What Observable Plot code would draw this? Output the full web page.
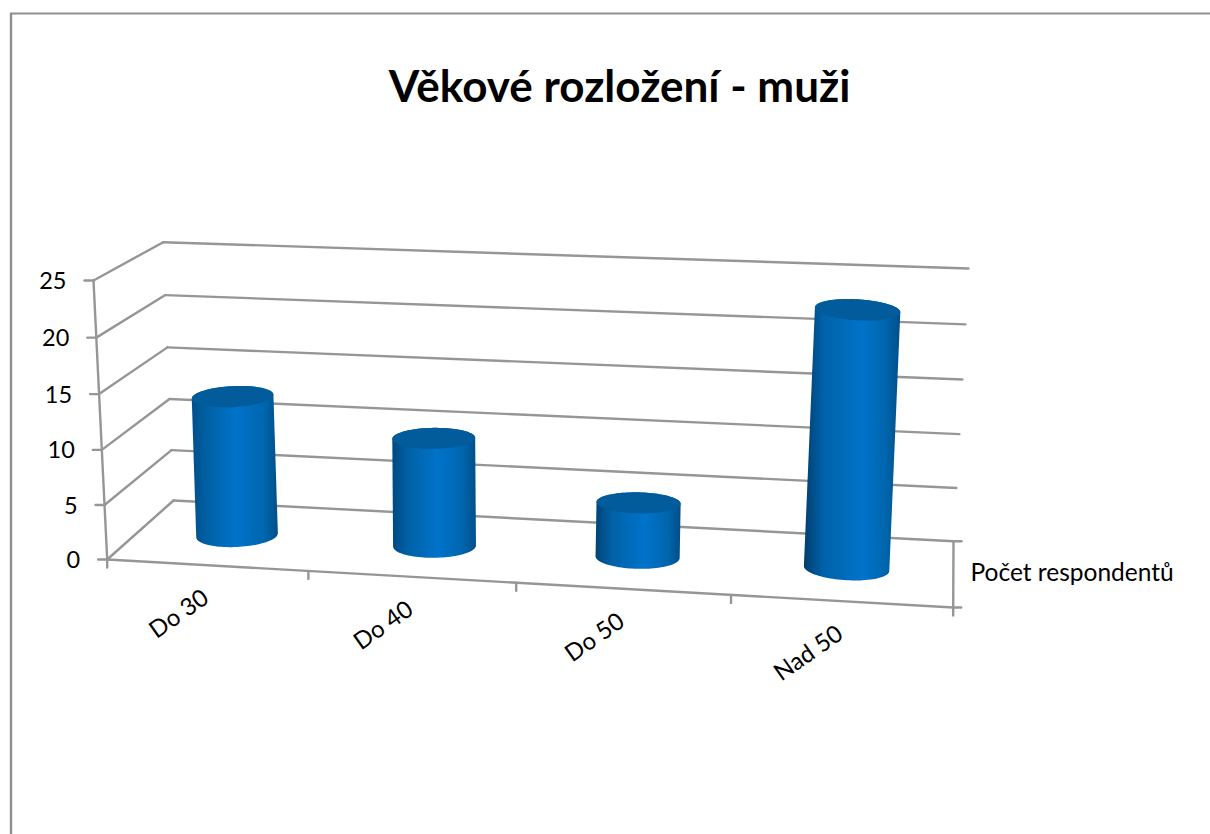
<!DOCTYPE html>
<html>
<head>
<meta charset="utf-8">
<script src="https://cdn.jsdelivr.net/npm/d3@7"></script>
<script src="https://cdn.jsdelivr.net/npm/@observablehq/plot@0.6"></script>
<style>
html,body{margin:0;padding:0;background:#fff}
svg{display:block}
</style>
</head>
<body>
<div id="chart"></div>
<script>
// ---- data ----
const categories = ["Do 30", "Do 40", "Do 50", "Nad 50"];
const respondents = [13, 10, 5, 23];
const valueTicks = [0, 5, 10, 15, 20, 25];
const seriesName = "Počet respondentů";
const chartTitle = "Věkové rozložení - muži";

// ---- 3-D projection of the chart box: (along, depth, value) -> page plane ----
const vMax = 25, persp = -0.064, barPersp = -0.055, vBow = -0.03;
const box = {
  fl0: [106.7, 559], fr0: [952.7, 607], bl0: [173, 500], br0: [953, 540.7],
  fl1: [93, 280], fr1: [969, 312], bl1: [162.7, 241.7], br1: [968, 268]
};
const lerp = (a, b, t) => a + (b - a) * t;
const warp = (u, k) => u * (1 + k) / (1 + k * u);
function project(u, d, v, k = persp) {
  const t = warp(u, k), r = v / vMax, w = r + vBow * r * (1 - r);
  const at = i => {
    const b0 = lerp(lerp(box.fl0[i], box.fr0[i], t), lerp(box.bl0[i], box.br0[i], t), d);
    const b1 = lerp(lerp(box.fl1[i], box.fr1[i], t), lerp(box.bl1[i], box.br1[i], t), d);
    return lerp(b0, b1, w);
  };
  return {x: at(0), y: at(1)};
}
const catU = i => (i + 0.5) / categories.length;

// ---- frame and wall lines ----
const gridStyle = {x: "x", y: "y", stroke: "#969696", strokeWidth: 2.4, curve: "linear"};
const seg = (a, b) => [a, b];
const wallLines = valueTicks.flatMap(v => [
  seg(project(0, 1, v), project(1, 1, v)),
  seg(project(0, 0, v), project(0, 1, v))
]);
const offset = (p, dx, dy) => ({x: p.x + dx, y: p.y + dy});
const axisLines = [
  seg(project(0, 0, 0), project(0, 0, vMax)),
  seg(project(0, 0, 0), project(1, 0, 0)),
  seg(project(1, 0, 0), project(1, 1, 0)),
  ...valueTicks.map(v => seg(project(0, 0, v), offset(project(0, 0, v), -9, 0))),
  ...d3.range(categories.length + 1).map(i => {
    const p = project(i / categories.length, 0, 0);
    return seg(p, offset(p, 0, 8));
  }),
  seg(project(1, 0, 0), offset(project(1, 0, 0), 8, 0)),
  seg(project(1, 1, 0), offset(project(1, 1, 0), 8, 0))
];
const lineMarks = [...wallLines, ...axisLines].map(s => Plot.line(s, gridStyle));

// ---- cylinders ----
const angles = n => d3.range(n + 1).map(k => Math.PI * k / n);
function ellipsePoint(c, rx, ry, slope, a) {
  return {x: c.x + rx * Math.cos(a), y: c.y + rx * Math.cos(a) * slope + ry * Math.sin(a)};
}
const cylinders = respondents.map((value, i) => {
  const u = catU(i);
  const rx = 40.5 + 2.5 * u;
  const slope = 0.14 * (u - 0.47);
  const bottom = project(u, 0.5, 0, barPersp), top = project(u, 0.5, value, barPersp);
  const lower = angles(48).map(a => ellipsePoint(bottom, rx, 11.7, slope, a));   // right -> left, front side
  const upper = angles(48).map(a => ellipsePoint(top, rx, 10.5, slope, Math.PI + a)); // left -> right, back side
  const cap = angles(96).map(a => ellipsePoint(top, rx, 10.5, slope, 2 * a));
  return {i, u, body: [...lower, ...upper], cap};
});
const defs = () => {
  const d = d3.create("svg:defs");
  cylinders.forEach(({i, u}) => {
    const g = d.append("linearGradient").attr("id", `cyl${i}`).attr("x1", 0).attr("x2", 1).attr("y1", 0).attr("y2", 0);
    const stops = [
      [0, d3.interpolateRgb("#00528f", "#003a69")(u)],
      [0.2, "#0062a8"],
      [0.5 + 0.12 * u, "#0073ca"],
      [0.84, "#0066ae"],
      [1, "#004f88"]
    ];
    stops.forEach(([o, c]) => g.append("stop").attr("offset", o).attr("stop-color", c));
  });
  return d.node();
};
const cylinderMarks = cylinders.flatMap(c => [
  Plot.line(c.body, {x: "x", y: "y", fill: `url(#cyl${c.i})`, stroke: "none", curve: "linear"}),
  Plot.line(c.cap, {x: "x", y: "y", fill: "#025c9b", stroke: "none", curve: "linear"})
]);

// ---- labels ----
const font = "Lato, Carlito, 'Open Sans', sans-serif";
const valueLabels = valueTicks.map(v => ({v, ...project(0, 0, v)}));
const catLabels = categories.map((c, i) => ({c, ...project(catU(i), 0, 0)}));

const chart = Plot.plot({
  width: 1210,
  height: 834,
  margin: 0,
  style: {background: "#fff"},
  x: {domain: [0, 1210], range: [0, 1210], axis: null},
  y: {domain: [0, 834], range: [0, 834], axis: null},
  marks: [
    defs,
    Plot.ruleX([10.5], {y1: 13, y2: 834, stroke: "#8f8f8f", strokeWidth: 2.4}),
    Plot.ruleY([13], {x1: 10, x2: 1210, stroke: "#8f8f8f", strokeWidth: 2}),
    ...lineMarks,
    ...cylinderMarks,
    Plot.text([chartTitle], {x: () => 619, y: () => 87, text: d => d, fontFamily: font, fontWeight: 700, fontSize: 44, fill: "#000"}),
    Plot.text(valueLabels, {x: "x", y: "y", text: d => String(d.v), dx: -27, dy: 1, textAnchor: "end", fontFamily: font, fontSize: 23.5, fill: "#000"}),
    Plot.text(catLabels, {x: "x", y: "y", text: "c", dx: -1, dy: 30, rotate: -35, textAnchor: "end", fontFamily: font, fontSize: 24, fill: "#000"}),
    Plot.text([seriesName], {x: () => 970, y: () => 572.5, text: d => d, textAnchor: "start", fontFamily: font, fontSize: 24.5, fill: "#000"})
  ]
});
document.getElementById("chart").append(chart);
</script>
</body>
</html>
